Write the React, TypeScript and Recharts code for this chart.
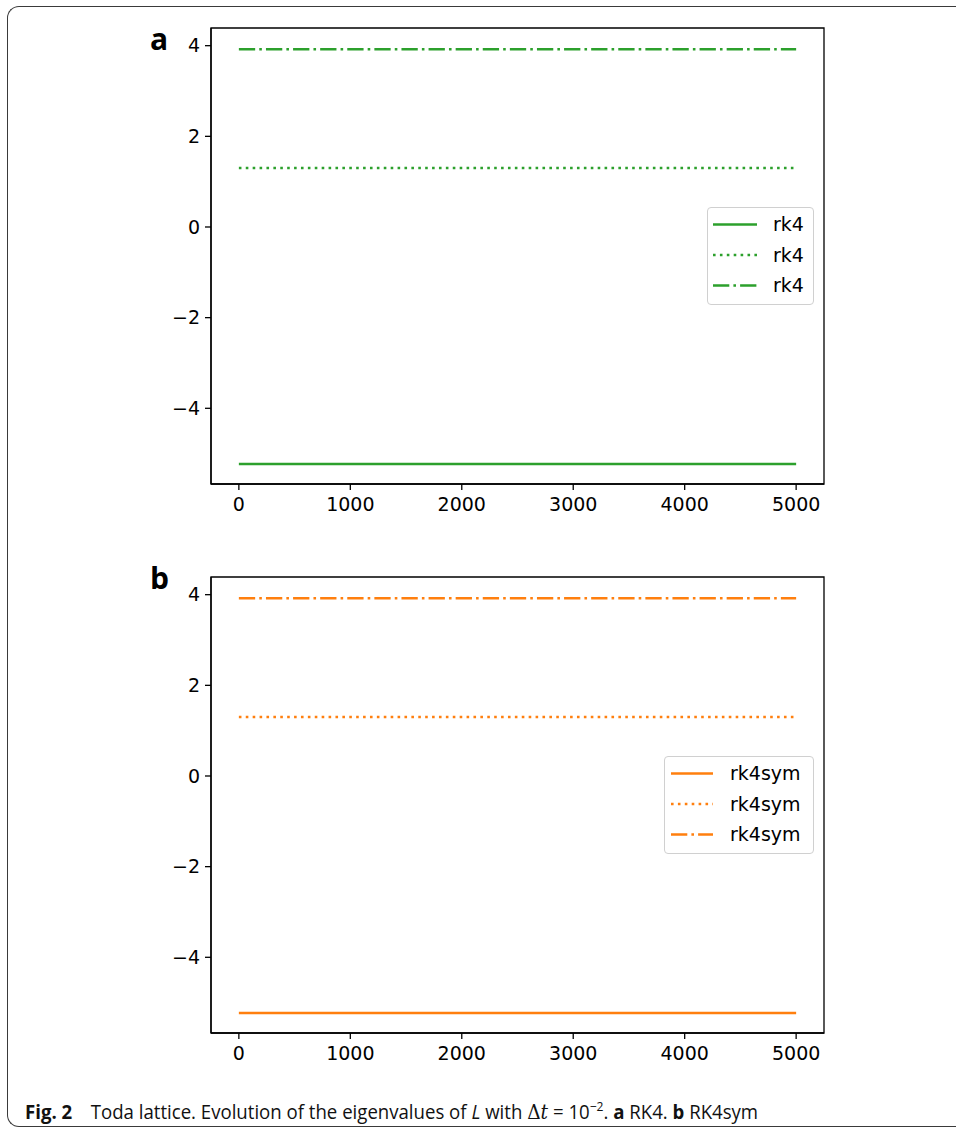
import React, { useLayoutEffect, useRef, useState } from "react";
import { LineChart, Line, XAxis, YAxis, ReferenceArea } from "recharts";

// ---- data ----
const timeSteps = [0, 5000];
const eigRk4 = { low: [-5.23, -5.23], mid: [1.3, 1.3], high: [3.92, 3.92] };
const eigRk4sym = { low: [-5.23, -5.23], mid: [1.3, 1.3], high: [3.92, 3.92] };
const xTicks = [0, 1000, 2000, 3000, 4000, 5000];
const yTicks = [-4, -2, 0, 2, 4];
const xDomain: [number, number] = [-250, 5250];
const yDomain: [number, number] = [-5.67, 4.39];

const GREEN = "#2ca02c";
const ORANGE = "#ff7f0e";
const SOLID = undefined;
const DOTTED = "2.6 4.3";
const DASHDOT = "16.3 4.1 2.6 4.1";

const styles = [
  { key: "low", dash: SOLID },
  { key: "mid", dash: DOTTED },
  { key: "high", dash: DASHDOT },
];

function buildRows(vals: { low: number[]; mid: number[]; high: number[] }) {
  return timeSteps.map((t, i) => ({ t, low: vals.low[i], mid: vals.mid[i], high: vals.high[i] }));
}

const fmt = (v: number) => (v < 0 ? "\u2212" + Math.abs(v) : String(v));
const tickStyle = { fontFamily: "DejaVu Sans", fontSize: 19, fill: "#000" };

function Panel({ rows, color, top }: { rows: any[]; color: string; top: number }) {
  return (
    <div style={{ position: "absolute", left: 0, top }}>
      <LineChart width={956} height={540} data={rows} margin={{ top: 28, right: 132, bottom: 0, left: 0 }}>
        <XAxis
          dataKey="t"
          type="number"
          domain={xDomain}
          ticks={xTicks}
          allowDataOverflow
          height={56}
          tickSize={6}
          tickMargin={8}
          tick={tickStyle}
          stroke="#000"
          tickLine={{ stroke: "#000", strokeWidth: 1.3 }}
          axisLine={{ stroke: "#000", strokeWidth: 1.3 }}
        />
        <YAxis
          type="number"
          domain={yDomain}
          ticks={yTicks}
          allowDataOverflow
          width={211}
          tickSize={6}
          tickMargin={5}
          tick={tickStyle}
          tickFormatter={fmt}
          stroke="#000"
          tickLine={{ stroke: "#000", strokeWidth: 1.3 }}
          axisLine={{ stroke: "#000", strokeWidth: 1.3 }}
        />
        <ReferenceArea
          x1={xDomain[0]}
          x2={xDomain[1]}
          y1={yDomain[0]}
          y2={yDomain[1]}
          fill="none"
          fillOpacity={0}
          stroke="#000"
          strokeWidth={1.3}
          ifOverflow="visible"
        />
        {styles.map((s) => (
          <Line
            key={s.key}
            dataKey={s.key}
            stroke={color}
            strokeWidth={2.6}
            strokeDasharray={s.dash}
            strokeLinecap="butt"
            dot={false}
            activeDot={false}
            isAnimationActive={false}
            type="linear"
          />
        ))}
      </LineChart>
    </div>
  );
}

function LegendBox({ left, top, width, label, color, sampleX, sampleW, textX }: any) {
  const rowYs = [17.5, 48, 78.5];
  return (
    <div
      style={{
        position: "absolute",
        left,
        top,
        width,
        height: 98,
        border: "1px solid #d0d0d0",
        borderRadius: 4,
        background: "#fff",
        boxSizing: "border-box",
      }}
    >
      <svg width={width} height={98} style={{ position: "absolute", left: -1, top: -1 }}>
        {styles.map((s, i) => (
          <g key={s.key}>
            <line
              x1={sampleX}
              x2={sampleX + sampleW}
              y1={rowYs[i]}
              y2={rowYs[i]}
              stroke={color}
              strokeWidth={2.6}
              strokeDasharray={s.dash}
            />
            <text x={textX} y={rowYs[i]} dy="0.36em" fontFamily="DejaVu Sans" fontSize={19} fill="#000">
              {label}
            </text>
          </g>
        ))}
      </svg>
    </div>
  );
}

function Caption() {
  const ref = useRef<HTMLSpanElement>(null);
  const [scale, setScale] = useState(1);
  useLayoutEffect(() => {
    if (ref.current) {
      const w = ref.current.offsetWidth;
      if (w > 0) setScale(733 / w);
    }
  }, []);
  return (
    <div style={{ position: "absolute", left: 25, top: 1093, whiteSpace: "nowrap" }}>
      <span
        ref={ref}
        style={{
          display: "inline-block",
          fontFamily: "Open Sans",
          fontSize: 20,
          lineHeight: "26px",
          color: "#111",
          transform: `scaleX(${scale})`,
          transformOrigin: "0 0",
        }}
      >
        <b>Fig. 2</b>
        {"\u2002\u2002Toda lattice. Evolution of the eigenvalues of "}
        <i>L</i>
        {" with "}
        <span style={{ fontFamily: "DejaVu Serif" }}>
          {"\u0394"}
          <i>t</i>
        </span>
        {" = 10"}
        <span style={{ fontSize: 13, verticalAlign: "8px" }}>{"\u22122"}</span>
        {". "}
        <b>a</b>
        {" RK4. "}
        <b>b</b>
        {" RK4sym"}
      </span>
    </div>
  );
}

export default function App() {
  const rowsA = buildRows(eigRk4);
  const rowsB = buildRows(eigRk4sym);
  return (
    <div style={{ position: "absolute", left: 0, top: 0, width: 956, height: 1129, overflow: "hidden", background: "#fff" }}>
      <div
        style={{
          position: "absolute",
          left: 7,
          top: 6,
          width: 960,
          height: 1121,
          borderTop: "1.5px solid #3a3a3a",
          borderLeft: "1.5px solid #3a3a3a",
          borderBottom: "1.5px solid #3a3a3a",
          borderTopLeftRadius: 12,
          borderBottomLeftRadius: 12,
          boxSizing: "border-box",
        }}
      />
      <Panel rows={rowsA} color={GREEN} top={0} />
      <Panel rows={rowsB} color={ORANGE} top={549} />
      <LegendBox left={707} top={207} width={107} label="rk4" color={GREEN} sampleX={6} sampleW={44} textX={66} />
      <LegendBox left={664} top={756} width={150} label="rk4sym" color={ORANGE} sampleX={7} sampleW={42} textX={66} />
      <div style={{ position: "absolute", left: 150, top: 22, fontFamily: "Open Sans", fontWeight: 700, fontSize: 30, lineHeight: "34px" }}>a</div>
      <div style={{ position: "absolute", left: 150, top: 561, fontFamily: "Open Sans", fontWeight: 700, fontSize: 30, lineHeight: "34px" }}>b</div>
      <Caption />
    </div>
  );
}
